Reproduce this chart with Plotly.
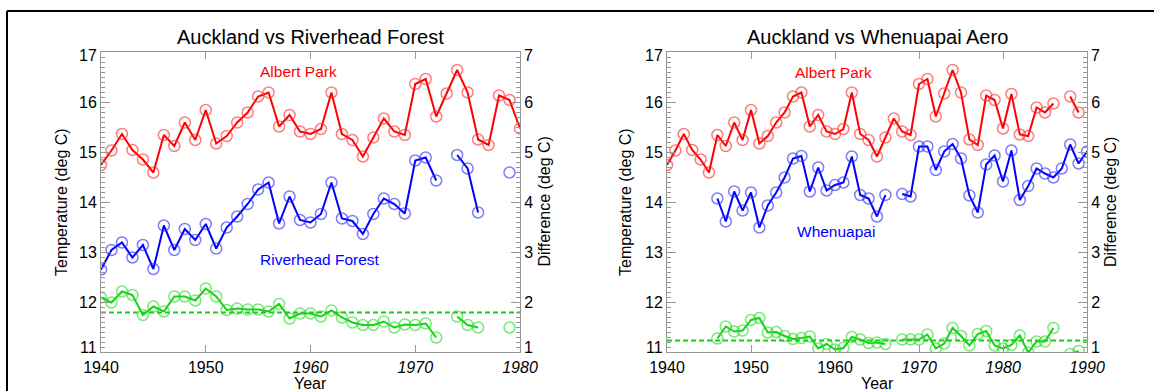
import plotly.graph_objects as go

# ---------------- data ----------------
years = list(range(1940, 1991))

albert_park = [14.74, 15.03, 15.36, 15.04, 14.85, 14.59, 15.34, 15.12, 15.59, 15.24,
               15.84, 15.17, 15.32, 15.59, 15.79, 16.11, 16.19, 15.51, 15.74, 15.41,
               15.36, 15.46, 16.19, 15.36, 15.24, 14.91, 15.29, 15.67, 15.41, 15.34,
               16.36, 16.46, 15.71, 16.17, 16.64, 16.19, 15.25, 15.14, 16.13, 16.04,
               15.47, 16.16, 15.35, 15.32, 15.89, 15.79, 15.97, None, 16.11, 15.79,
               None]

riverhead = [12.65, 13.04, 13.19, 12.89, 13.14, 12.66, 13.53, 13.04, 13.46, 13.24,
             13.56, 13.07, 13.49, 13.71, 13.96, 14.25, 14.39, 13.57, 14.11, 13.64,
             13.59, 13.76, 14.39, 13.67, 13.62, 13.36, 13.76, 14.07, 13.96, 13.77,
             14.83, 14.89, 14.43, None, 14.94, 14.67, 13.79, None, None, 14.59,
             None]

diff_riverhead = [2.09, 1.99, 2.21, 2.14, 1.74, 1.91, 1.81, 2.11, 2.11, 2.03,
                  2.27, 2.11, 1.84, 1.87, 1.85, 1.85, 1.81, 1.96, 1.67, 1.77,
                  1.77, 1.71, 1.83, 1.69, 1.59, 1.54, 1.54, 1.61, 1.49, 1.55,
                  1.54, 1.57, 1.29, None, 1.71, 1.54, 1.49, None, None, 1.49,
                  None]
mean_diff_riverhead = 1.79

whenuapai = [None, None, None, None, None, None,
             14.07, 13.61, 14.21, 13.83, 14.19, 13.49, 13.93, 14.19, 14.49, 14.87,
             14.92, 14.21, 14.69, 14.23, 14.34, 14.39, 14.91, 14.14, 14.07, 13.71,
             14.14, None,
             14.16, 14.11, 15.11, 15.11, 14.64, 15.01, 15.16, 14.87, 14.13, 13.79,
             14.75, 14.93, 14.41, 15.03, 14.04, 14.32, 14.67, 14.57, 14.49, 14.67,
             15.15, 14.77, 15.01]

diff_whenuapai = [None, None, None, None, None, None,
                  1.27, 1.51, 1.41, 1.43, 1.64, 1.68, 1.39, 1.40, 1.32, 1.26,
                  1.28, 1.31, 1.07, 1.16, 1.05, 1.08, 1.30, 1.25, 1.18, 1.19,
                  1.16, None,
                  1.25, 1.25, 1.25, 1.35, 1.07, 1.17, 1.48, 1.32, 1.13, 1.36,
                  1.42, 1.13, 1.07, 1.14, 1.33, 0.99, 1.21, 1.21, 1.48, None,
                  0.96, 1.02, None]
mean_diff_whenuapai = 1.23

left_years = years[:41]          # 1940-1980
right_years = years              # 1940-1990
left_ticks = [1940, 1950, 1960, 1970, 1980]
left_ticktext = ["1940", "1950", "<i>1960</i>", "<i>1970</i>", "<i>1980</i>"]
right_ticks = [1940, 1950, 1960, 1970, 1980, 1990]
right_ticktext = ["1940", "1950", "1960", "<i>1970</i>", "<i>1980</i>", "<i>1990</i>"]
temp_range = [11, 17]
diff_range = [1, 7]
temp_inner_ticks = [12, 13, 14, 15, 16]
diff_inner_ticks = [2, 3, 4, 5, 6]

# ---------------- style ----------------
FONT = "Liberation Sans, Arial, Helvetica, sans-serif"
RED, RED_M = "rgb(255,0,0)", "rgba(255,40,40,0.6)"
BLUE, BLUE_M = "rgb(0,0,255)", "rgba(40,40,255,0.6)"
GREEN, GREEN_M = "rgb(20,210,20)", "rgba(30,220,30,0.6)"
AXC = "rgb(150,150,150)"
W, H = 1154, 391


def px(p):
    """window x pixel -> paper fraction"""
    return p / W


def py(p):
    """window y pixel (from top) -> paper fraction"""
    return (H - p) / H


def series(x, y, line_c, mark_c, xa, ya):
    return go.Scatter(x=x, y=y, mode="lines+markers", xaxis=xa, yaxis=ya,
                      connectgaps=False, showlegend=False, hoverinfo="x+y",
                      line=dict(color=line_c, width=2),
                      marker=dict(symbol="circle-open", size=11,
                                  color=mark_c, line=dict(color=mark_c, width=1.5)))


fig = go.Figure()
# left panel
fig.add_trace(series(left_years, albert_park[:41], RED, RED_M, "x", "y"))
fig.add_trace(series(left_years, riverhead, BLUE, BLUE_M, "x", "y"))
fig.add_trace(series(left_years, diff_riverhead, GREEN, GREEN_M, "x", "y2"))
fig.add_trace(go.Scatter(x=[left_years[0], left_years[-1]],
                         y=[mean_diff_riverhead, mean_diff_riverhead],
                         mode="lines", xaxis="x", yaxis="y2", showlegend=False,
                         line=dict(color=GREEN, width=2, dash="5px,3px")))
# right panel
fig.add_trace(series(right_years, albert_park, RED, RED_M, "x2", "y3"))
fig.add_trace(series(right_years, whenuapai, BLUE, BLUE_M, "x2", "y3"))
fig.add_trace(series(right_years, diff_whenuapai, GREEN, GREEN_M, "x2", "y4"))
fig.add_trace(go.Scatter(x=[right_years[0], right_years[-1]],
                         y=[mean_diff_whenuapai, mean_diff_whenuapai],
                         mode="lines", xaxis="x2", yaxis="y4", showlegend=False,
                         line=dict(color=GREEN, width=2, dash="5px,3px")))

XL = [px(101), px(520)]
XR = [px(667), px(1087)]
YD = [py(352), py(52)]

tickfont = dict(family=FONT, size=16, color="black")


def xax(domain, rng, tv, tt, anchor):
    return dict(domain=domain, range=rng, anchor=anchor, showline=True, linecolor=AXC,
                linewidth=1, mirror="ticks", ticks="inside", ticklen=7, tickcolor=AXC,
                tickvals=tv, ticktext=tt, showgrid=False, zeroline=False,
                tickfont=tickfont, fixedrange=True, automargin=False,
                ticklabelstandoff=1)


def yax(rng, tv, anchor, side, overlaying=None, domain=None):
    d = dict(range=rng, anchor=anchor, side=side, showline=True, linecolor=AXC,
             linewidth=1, ticks="inside", ticklen=9, tickcolor=AXC, tickvals=tv,
             showgrid=False, zeroline=False, tickfont=tickfont, fixedrange=True,
             automargin=False,
             minor=dict(ticks="inside", ticklen=4, dtick=0.1, tickcolor=AXC, showgrid=False))
    if overlaying:
        d["overlaying"] = overlaying
    if domain:
        d["domain"] = domain
    return d


fig.update_layout(
    width=W, height=H, autosize=False,
    margin=dict(l=0, r=0, t=0, b=0, pad=0, autoexpand=False),
    paper_bgcolor="white", plot_bgcolor="white",
    font=dict(family=FONT, color="black"),
    xaxis=xax(XL, [1940, 1980], left_ticks, left_ticktext, "y"),
    yaxis=yax(temp_range, temp_inner_ticks, "x", "left", domain=YD),
    yaxis2=yax(diff_range, diff_inner_ticks, "x", "right", overlaying="y"),
    xaxis2=xax(XR, [1940, 1990], right_ticks, right_ticktext, "y3"),
    yaxis3=yax(temp_range, temp_inner_ticks, "x2", "left", domain=YD),
    yaxis4=yax(diff_range, diff_inner_ticks, "x2", "right", overlaying="y3"),
)

ann = []
def paper_text(txt, x, y, size, angle=0):
    ann.append(dict(text=txt, x=px(x), y=py(y), xref="paper", yref="paper", showarrow=False,
                    xanchor="center", yanchor="middle", textangle=angle,
                    font=dict(family=FONT, size=size, color="black")))

paper_text("Auckland vs Riverhead Forest", 310.5, 37, 20)
paper_text("Auckland vs Whenuapai Aero", 877, 37, 20)
paper_text("Year", 310.5, 383.5, 16)
paper_text("Year", 877, 383.5, 16)
paper_text("Temperature (deg C)", 61, 202, 16, -90)
paper_text("Temperature (deg C)", 625, 202, 16, -90)
paper_text("Difference (deg C)", 543.5, 202, 16, -90)
paper_text("Difference (deg C)", 1110, 202, 16, -90)

def data_text(txt, x, y, xa, ya, color):
    ann.append(dict(text=txt, x=x, y=y, xref=xa, yref=ya, showarrow=False,
                    xanchor="center", yanchor="middle",
                    font=dict(family=FONT, size=15.5, color=color)))

data_text("Albert Park", 1958.9, 16.6, "x", "y", RED)
data_text("Riverhead Forest", 1960.9, 12.86, "x", "y", BLUE)
data_text("Albert Park", 1959.8, 16.59, "x2", "y3", RED)
data_text("Whenuapai", 1960.06, 13.41, "x2", "y3", BLUE)

# end-of-axis tick labels, nudged inward as in the reference
def end_label(value, xa, ya, side, shift):
    left = side == "left"
    ann.append(dict(text=str(value), x=0 if left else 1, y=value,
                    xref=f"{xa} domain", yref=ya, showarrow=False,
                    xanchor="right" if left else "left", yanchor="middle",
                    xshift=-2 if left else 2, yshift=shift,
                    font=tickfont))

for xa, ya_t, ya_d in (("x", "y", "y2"), ("x2", "y3", "y4")):
    end_label(temp_range[0], xa, ya_t, "left", 5)
    end_label(temp_range[1], xa, ya_t, "left", -4)
    end_label(diff_range[0], xa, ya_d, "right", 5)
    end_label(diff_range[1], xa, ya_d, "right", -4)

fig.update_layout(annotations=ann)

# outer frame (left and top edges visible in the reference)
fx, fy = px(7), py(11)
fig.add_shape(type="line", xref="paper", yref="paper", x0=fx, x1=fx, y0=-0.05, y1=fy,
              line=dict(color="black", width=2))
fig.add_shape(type="line", xref="paper", yref="paper", x0=fx, x1=1.05, y0=fy, y1=fy,
              line=dict(color="black", width=2))

# remove the default page margin so the figure fills the window exactly
fig.write_html("out.html", config={"displayModeBar": False},
               post_script="document.body.style.margin='0';"
                           "document.body.style.overflow='hidden';")
